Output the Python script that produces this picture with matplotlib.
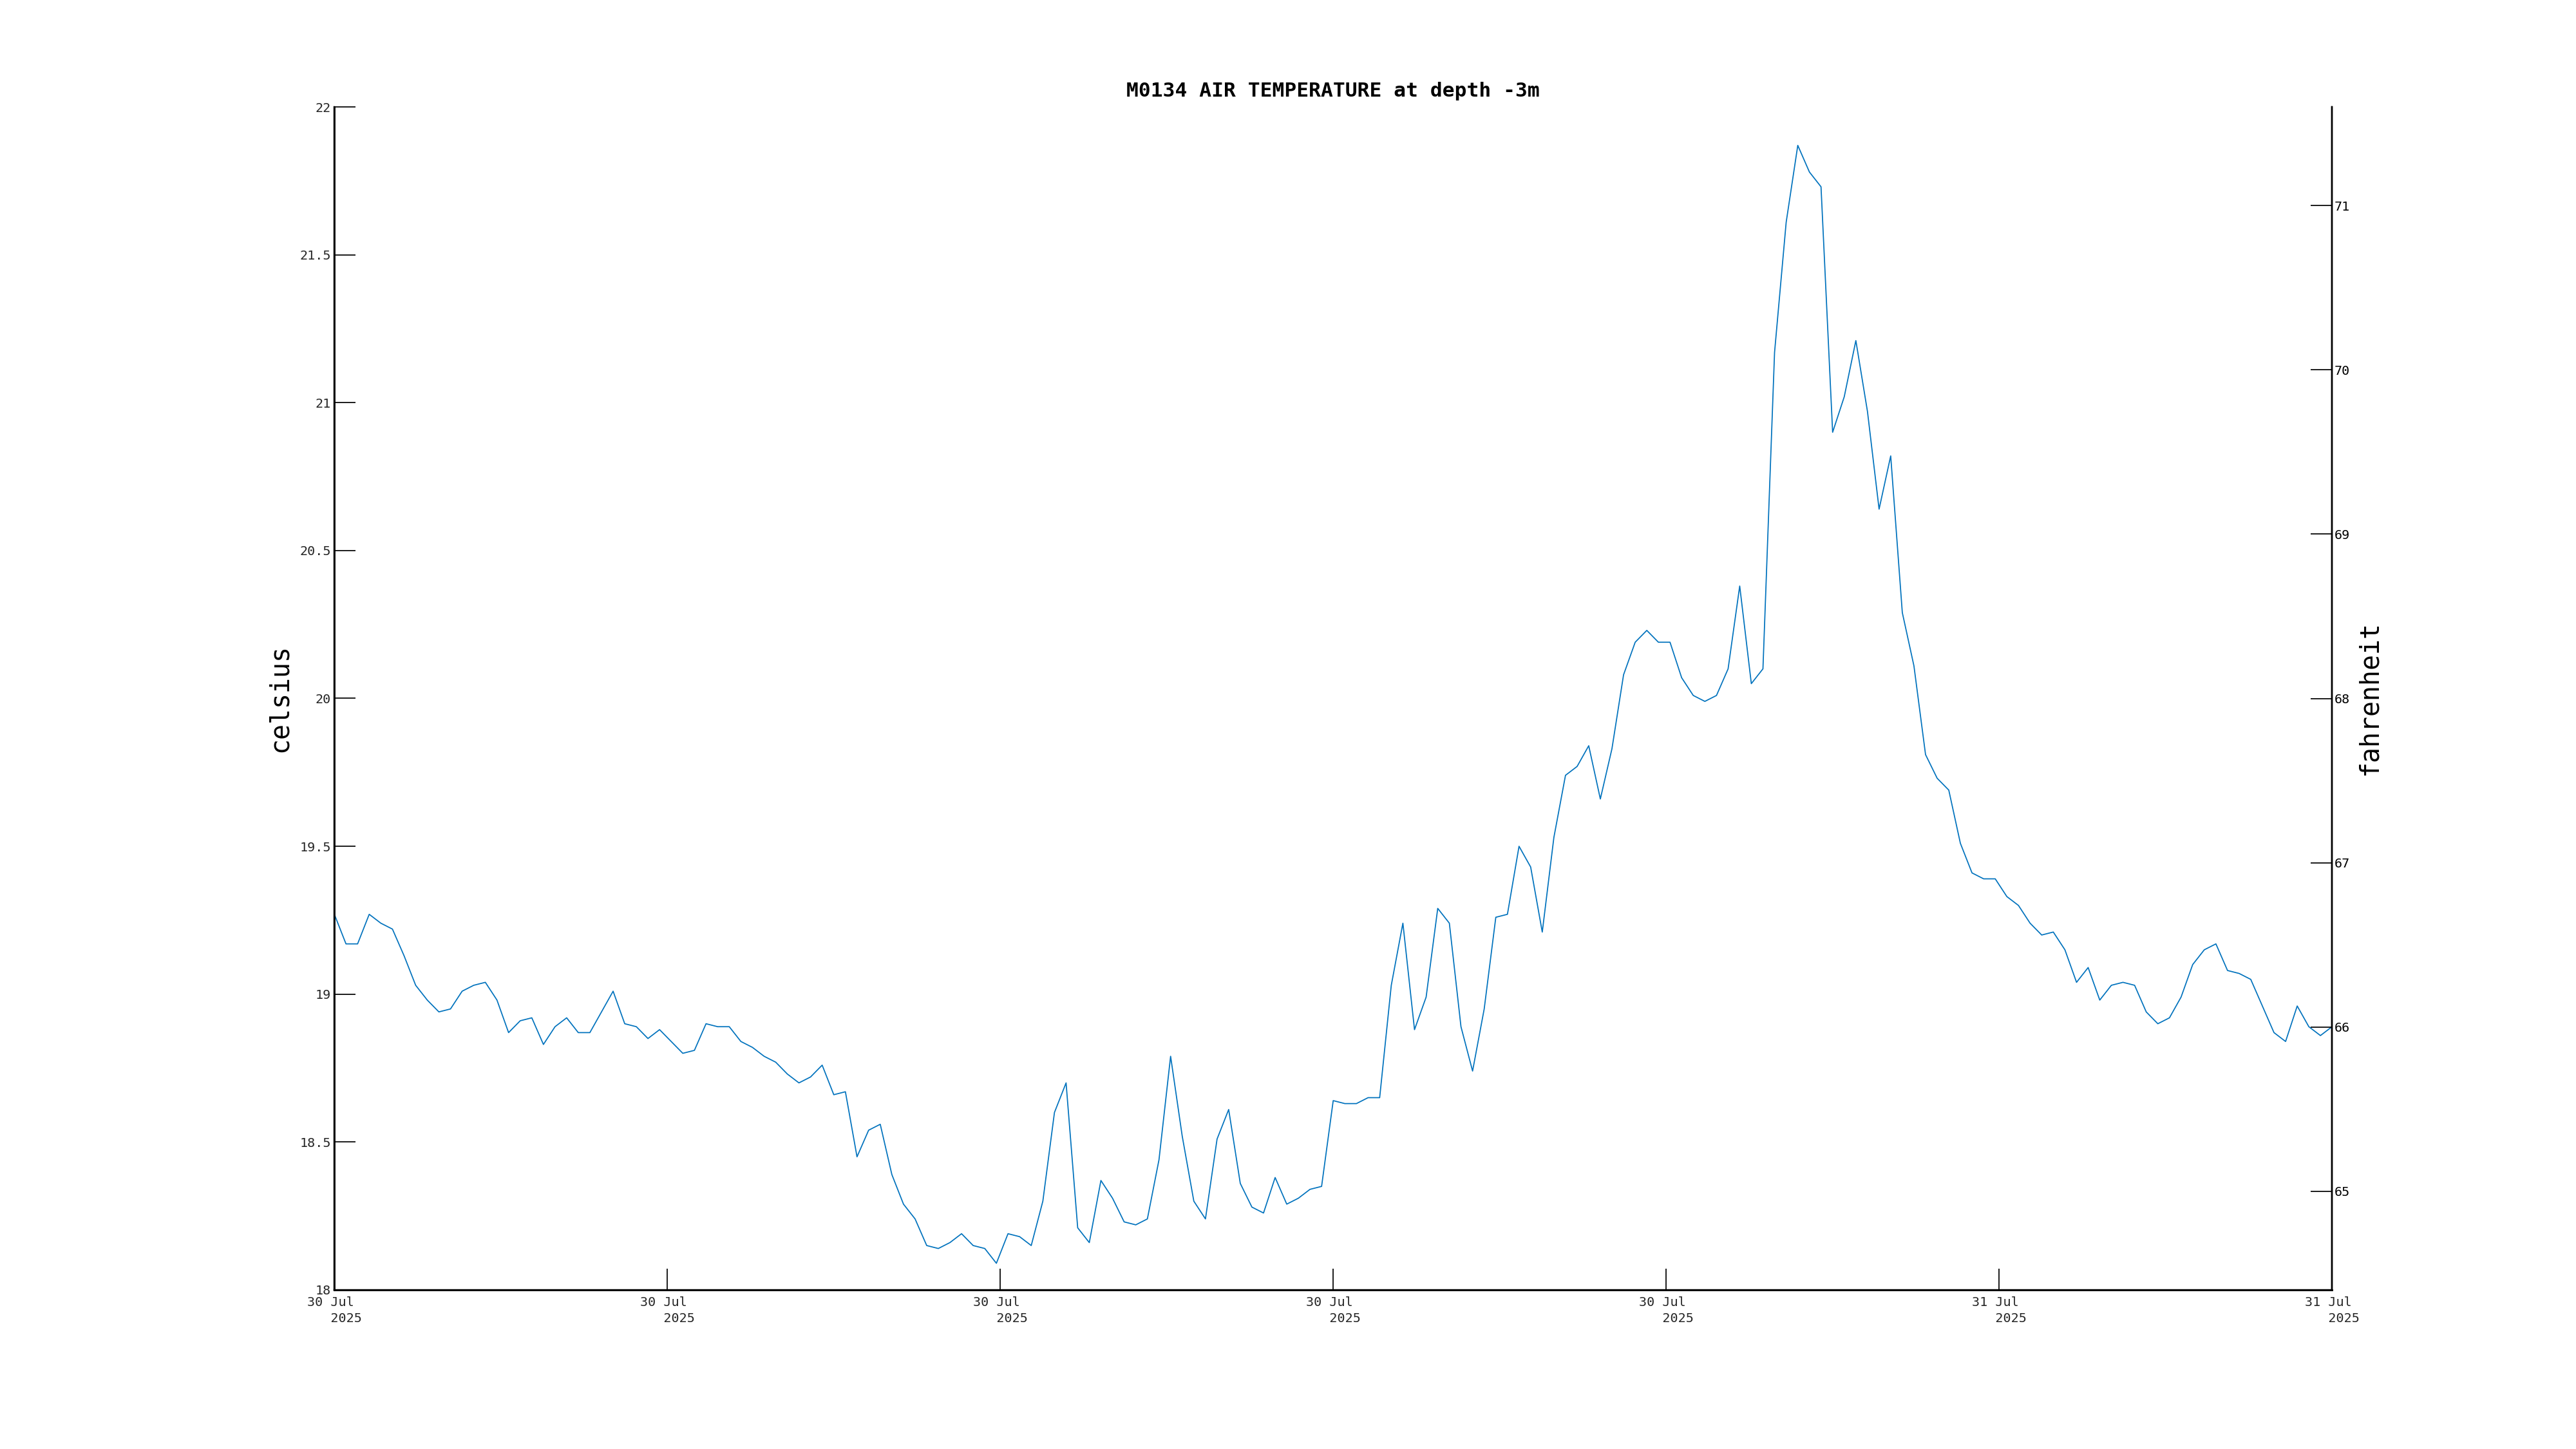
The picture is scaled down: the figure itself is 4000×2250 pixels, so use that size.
import numpy as np
import pandas as pd
import matplotlib
matplotlib.use("Agg")
import matplotlib.pyplot as plt
import matplotlib.dates as mdates

# 10 minute readings, air temperature in celsius
start_time = "2025-07-30 02:00"
step = "10min"
temp_c = [
    19.27, 19.17, 19.17, 19.27, 19.24, 19.22, 19.13, 19.03, 18.98, 18.94,
    18.95, 19.01, 19.03, 19.04, 18.98, 18.87, 18.91, 18.92, 18.83, 18.89,
    18.92, 18.87, 18.87, 18.94, 19.01, 18.90, 18.89, 18.85, 18.88, 18.84,
    18.80, 18.81, 18.90, 18.89, 18.89, 18.84, 18.82, 18.79, 18.77, 18.73,
    18.70, 18.72, 18.76, 18.66, 18.67, 18.45, 18.54, 18.56, 18.39, 18.29,
    18.24, 18.15, 18.14, 18.16, 18.19, 18.15, 18.14, 18.09, 18.19, 18.18,
    18.15, 18.30, 18.60, 18.70, 18.21, 18.16, 18.37, 18.31, 18.23, 18.22,
    18.24, 18.44, 18.79, 18.52, 18.30, 18.24, 18.51, 18.61, 18.36, 18.28,
    18.26, 18.38, 18.29, 18.31, 18.34, 18.35, 18.64, 18.63, 18.63, 18.65,
    18.65, 19.03, 19.24, 18.88, 18.99, 19.29, 19.24, 18.89, 18.74, 18.95,
    19.26, 19.27, 19.50, 19.43, 19.21, 19.53, 19.74, 19.77, 19.84, 19.66,
    19.83, 20.08, 20.19, 20.23, 20.19, 20.19, 20.07, 20.01, 19.99, 20.01,
    20.10, 20.38, 20.05, 20.10, 21.17, 21.61, 21.87, 21.78, 21.73, 20.90,
    21.02, 21.21, 20.97, 20.64, 20.82, 20.29, 20.11, 19.81, 19.73, 19.69,
    19.51, 19.41, 19.39, 19.39, 19.33, 19.30, 19.24, 19.20, 19.21, 19.15,
    19.04, 19.09, 18.98, 19.03, 19.04, 19.03, 18.94, 18.90, 18.92, 18.99,
    19.10, 19.15, 19.17, 19.08, 19.07, 19.05, 18.96, 18.87, 18.84, 18.96,
    18.89, 18.86, 18.89,
]
c_ticks = [18, 18.5, 19, 19.5, 20, 20.5, 21, 21.5, 22]
c_ticklabels = ["18", "18.5", "19", "19.5", "20", "20.5", "21", "21.5", "22"]
f_ticks = [65, 66, 67, 68, 69, 70, 71]

times = pd.date_range(start_time, periods=len(temp_c), freq=step)

plt.rcParams['font.family'] = ['DejaVu Sans Mono', 'DejaVu Sans']

fig = plt.figure(figsize=(16, 9), dpi=250)
fig.subplots_adjust(left=0.1298, right=0.9053, bottom=0.1098, top=0.9262)
ax = fig.add_subplot(111)

ax.plot(times, temp_c, color='#0072bd', linewidth=0.5)

ax.set_ylim(18, 22)
ax.set_yticks(c_ticks)
ax.set_yticklabels(c_ticklabels)
x0 = mdates.date2num(times[0])
x1 = mdates.date2num(times[-1])
ax.set_xlim(x0, x1)
xt = np.linspace(x0, x1, 7)
ax.set_xticks(xt)
ax.set_xticklabels([mdates.num2date(v).strftime('%d %b\n   %Y') for v in xt],
                   ha='center', ma='left', linespacing=1.45)

ax.tick_params(axis='both', direction='in', length=9.5, width=0.5,
               labelsize=5.8, labelcolor='#262626', pad=1.5)
ax.tick_params(axis='x', pad=2.8)
ax.spines['top'].set_visible(False)
for s in ['left', 'bottom', 'right']:
    ax.spines[s].set_linewidth(0.7)

ax.set_ylabel('celsius', fontsize=11.5, labelpad=3)
ax.set_title('M0134 AIR TEMPERATURE at depth -3m', fontsize=9,
             fontweight='bold', pad=4.5)

# fahrenheit scale on the right
ax2 = ax.twinx()
ax2.set_ylim(18 * 9 / 5 + 32, 22 * 9 / 5 + 32)
ax2.set_yticks(f_ticks)
ax2.tick_params(axis='y', direction='in', length=9.5, width=0.5,
                labelsize=5.8, labelcolor='black', pad=1)
ax2.spines['top'].set_visible(False)
ax2.spines['right'].set_linewidth(0.7)
ax2.set_ylabel('fahrenheit', fontsize=11.5, labelpad=3)

fig.savefig('out.png', dpi=250)
